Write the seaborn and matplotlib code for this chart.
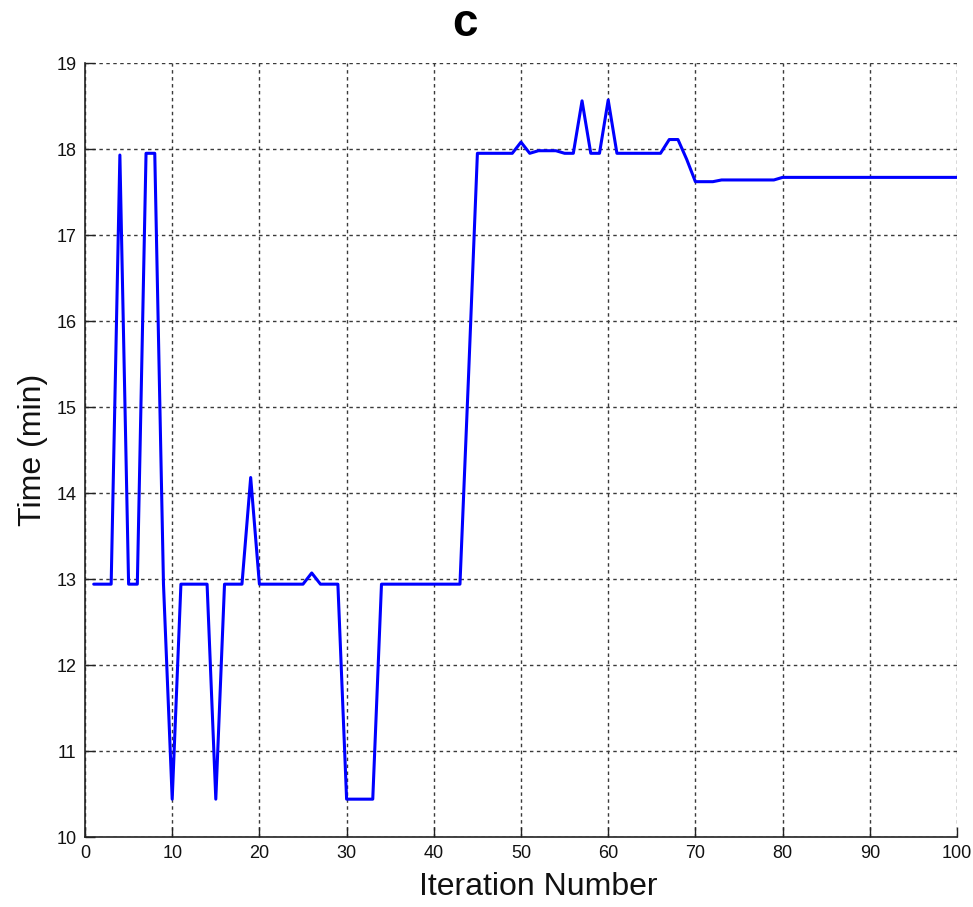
import matplotlib
matplotlib.use("Agg")
import matplotlib.pyplot as plt
from matplotlib import font_manager
import seaborn as sns
import pandas as pd

iterations = list(range(1, 101))
time_min = (
    [12.94, 12.94, 12.94, 17.93, 12.94, 12.94, 17.95, 17.95, 12.94, 10.44]      # 1-10
    + [12.94, 12.94, 12.94, 12.94, 10.44, 12.94, 12.94, 12.94, 14.18, 12.94]    # 11-20
    + [12.94, 12.94, 12.94, 12.94, 12.94, 13.07, 12.94, 12.94, 12.94, 10.44]    # 21-30
    + [10.44, 10.44, 10.44, 12.94, 12.94, 12.94, 12.94, 12.94, 12.94, 12.94]    # 31-40
    + [12.94, 12.94, 12.94, 15.40, 17.95, 17.95, 17.95, 17.95, 17.95, 18.08]    # 41-50
    + [17.95, 17.98, 17.98, 17.98, 17.95, 17.95, 18.56, 17.95, 17.95, 18.57]    # 51-60
    + [17.95, 17.95, 17.95, 17.95, 17.95, 17.95, 18.11, 18.11, 17.88, 17.62]    # 61-70
    + [17.62, 17.62, 17.64, 17.64, 17.64, 17.64, 17.64, 17.64, 17.64, 17.67]    # 71-80
    + [17.67] * 20                                                               # 81-100
)
x_ticks = [0, 10, 20, 30, 40, 50, 60, 70, 80, 90, 100]
y_ticks = [10, 11, 12, 13, 14, 15, 16, 17, 18, 19]
title = "c"
x_label = "Iteration Number"
y_label = "Time (min)"

df = pd.DataFrame({"Iteration": iterations, "Time": time_min})

sns.set_style("white")
plt.rcParams["font.family"] = ["Liberation Sans", "DejaVu Sans"]

available = {f.name for f in font_manager.fontManager.ttflist}
narrow = "Liberation Sans Narrow" if "Liberation Sans Narrow" in available else "Liberation Sans"

fig = plt.figure(figsize=(9.73, 9.07), dpi=100)
ax = fig.add_axes([85 / 973, 1 - 837 / 907, (957 - 85) / 973, (837 - 63) / 907])

sns.lineplot(data=df, x="Iteration", y="Time", ax=ax, color="#0000ff", linewidth=2.2)

ax.set_xlim(0, 100)
ax.set_ylim(10, 19)
ax.set_xticks(x_ticks)
ax.set_yticks(y_ticks)
ax.set_xticklabels([str(t) for t in x_ticks], family=[narrow, "DejaVu Sans"], fontsize=13)
ax.set_yticklabels([str(t) for t in y_ticks], fontsize=13)
ax.tick_params(axis="both", direction="in", length=7, width=1, colors="#222222",
               pad=6, bottom=True, left=True)
ax.tick_params(axis="x", labelcolor="#111111")
ax.tick_params(axis="y", labelcolor="#111111")

ax.grid(True, which="major", color="#3a3a3a", linestyle=(0, (2.5, 2.5)), linewidth=1.0)
ax.set_axisbelow(True)

for side in ["top", "right"]:
    ax.spines[side].set_visible(False)
for side in ["left", "bottom"]:
    ax.spines[side].set_visible(True)
    ax.spines[side].set_color("#222222")
    ax.spines[side].set_linewidth(1.2)

ax.set_xlabel(x_label, fontsize=23, color="#111111")
ax.xaxis.set_label_coords(0.52, -0.045, transform=ax.transAxes)
ax.xaxis.label.set_va("top")
ax.set_ylabel(y_label, fontsize=23, labelpad=6, color="#111111")

fig.text(465 / 973, 1 - 24 / 907, title, fontsize=33, fontweight="bold",
         ha="center", va="center", color="black")

fig.savefig("out.png", dpi=100)
